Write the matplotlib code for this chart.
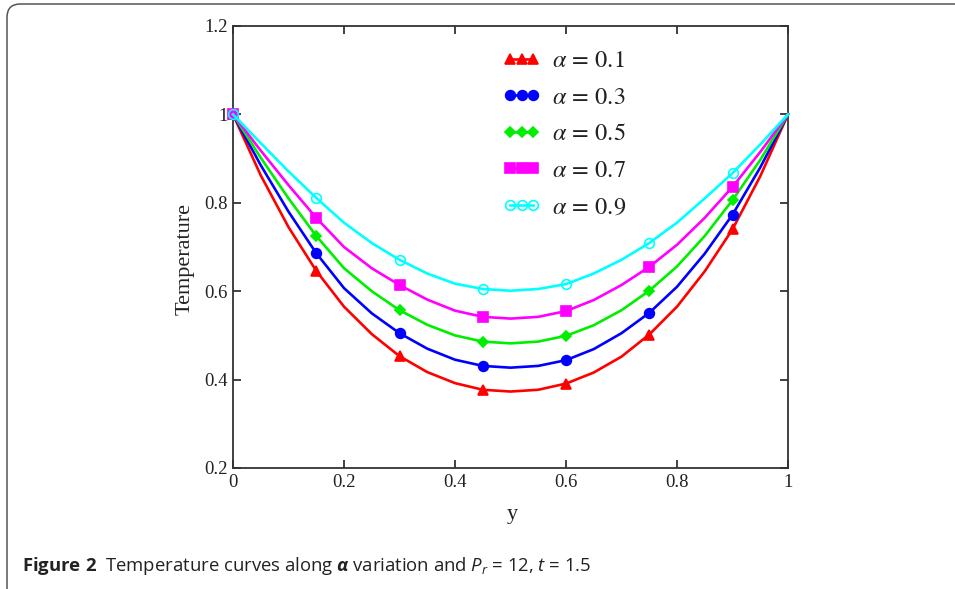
import matplotlib
matplotlib.use("Agg")
import matplotlib.pyplot as plt
from matplotlib.patches import FancyBboxPatch
import numpy as np

plt.rcParams['mathtext.fontset'] = 'custom'
plt.rcParams['mathtext.rm'] = 'Open Sans'
plt.rcParams['mathtext.it'] = 'Open Sans:italic'
plt.rcParams['mathtext.bf'] = 'Open Sans:bold'
plt.rcParams['mathtext.bfit'] = 'Open Sans:bold:italic'

# ---------------- data ----------------
y_pos = [0.0, 0.05, 0.10, 0.15, 0.20, 0.25, 0.30, 0.35, 0.40, 0.45, 0.50,
         0.55, 0.60, 0.65, 0.70, 0.75, 0.80, 0.85, 0.90, 0.95, 1.0]

temp_a01 = [1.0, 0.862, 0.745, 0.646, 0.565, 0.503, 0.453, 0.417, 0.392, 0.377, 0.373,
            0.377, 0.391, 0.416, 0.452, 0.502, 0.565, 0.645, 0.740, 0.860, 1.0]
temp_a03 = [1.0, 0.885, 0.780, 0.686, 0.607, 0.550, 0.505, 0.470, 0.445, 0.431, 0.427,
            0.431, 0.444, 0.469, 0.505, 0.551, 0.610, 0.685, 0.773, 0.880, 1.0]
temp_a05 = [1.0, 0.902, 0.810, 0.725, 0.652, 0.600, 0.557, 0.524, 0.500, 0.486, 0.482,
            0.486, 0.499, 0.523, 0.557, 0.601, 0.656, 0.725, 0.806, 0.897, 1.0]
temp_a07 = [1.0, 0.918, 0.840, 0.766, 0.700, 0.652, 0.614, 0.581, 0.556, 0.542, 0.538,
            0.542, 0.555, 0.580, 0.614, 0.655, 0.705, 0.766, 0.836, 0.915, 1.0]
temp_a09 = [1.0, 0.935, 0.871, 0.811, 0.755, 0.709, 0.671, 0.640, 0.617, 0.605, 0.601,
            0.605, 0.616, 0.640, 0.671, 0.709, 0.755, 0.810, 0.867, 0.932, 1.0]

series_labels = [r"$\alpha\,=\,0.1$", r"$\alpha\,=\,0.3$", r"$\alpha\,=\,0.5$",
                 r"$\alpha\,=\,0.7$", r"$\alpha\,=\,0.9$"]

x_ticks = [0, 0.2, 0.4, 0.6, 0.8, 1.0]
x_tick_labels = ["0", "0.2", "0.4", "0.6", "0.8", "1"]
y_ticks = [0.2, 0.4, 0.6, 0.8, 1.0, 1.2]
y_tick_labels = ["0.2", "0.4", "0.6", "0.8", "1", "1.2"]

caption = (r"$\mathbf{Figure\ 2}$  Temperature curves along $\mathbfit{\alpha}$ "
           r"variation and $P_r$ = 12, $t$ = 1.5")

# ---------------- figure ----------------
W, H = 955, 589
fig = plt.figure(figsize=(W / 100, H / 100), dpi=100)

# outer rounded frame
frame = FancyBboxPatch((7 / W, -40 / H), 1100 / W, (589 - 4 + 40) / H,
                       boxstyle="round,pad=0,rounding_size=0.014",
                       transform=fig.transFigure, fill=False,
                       edgecolor="#555555", linewidth=1.1, clip_on=False,
                       mutation_aspect=W / H)
fig.patches.append(frame)

ax = fig.add_axes([233 / W, 1 - 468 / H, (788 - 233) / W, (468 - 26) / H])

styles = [
    dict(color="#ff0000", marker="^", markersize=7, mfc="#ff0000"),
    dict(color="#0000ff", marker="o", markersize=7, mfc="#0000ff"),
    dict(color="#00ee00", marker="D", markersize=5, mfc="#00ee00"),
    dict(color="#ff00ff", marker="s", markersize=7, mfc="#ff00ff"),
    dict(color="#00ffff", marker="o", markersize=7, mfc="none"),
]
data = [temp_a01, temp_a03, temp_a05, temp_a07, temp_a09]

for vals, lab, st in zip(data, series_labels, styles):
    ax.plot(y_pos, vals, label=lab, linewidth=1.9, markevery=3,
            markeredgewidth=1.2, clip_on=False, zorder=3,
            **st)

ax.set_xlim(0, 1)
ax.set_ylim(0.2, 1.2)
ax.set_xticks(x_ticks)
ax.set_xticklabels(x_tick_labels)
ax.set_yticks(y_ticks)
ax.set_yticklabels(y_tick_labels)

for sp in ax.spines.values():
    sp.set_color("#333333")
    sp.set_linewidth(1.3)

ax.tick_params(direction="in", length=6, width=1.3, color="#333333",
               top=True, right=True, labelsize=13.5, labelcolor="#222222", pad=4)
for t in ax.get_xticklabels() + ax.get_yticklabels():
    t.set_fontfamily("Liberation Serif")

fig.text(185 / W, 1 - 259 / H, "Temperature", rotation=90, ha="center",
         va="center", fontsize=16, family="Liberation Serif", color="#222222")
fig.text(512 / W, 1 - 515 / H, "y", ha="center", va="center", fontsize=16,
         family="Liberation Serif", color="#222222")

leg = ax.legend(loc="upper left", bbox_to_anchor=(503 / W, 1 - 50 / H),
                bbox_transform=fig.transFigure, frameon=False, numpoints=3,
                handlelength=1.55, handletextpad=0.45, labelspacing=0.6,
                borderpad=0, borderaxespad=0,
                prop=dict(family="Liberation Serif", size=17.5, math_fontfamily="stix"))
for t in leg.get_texts():
    t.set_color("#222222")

fig.text(22 / W, 1 - 566 / H, caption, ha="left", va="center", fontsize=13.3,
         family="Open Sans", color="#222222")

fig.savefig("out.png", dpi=100)
